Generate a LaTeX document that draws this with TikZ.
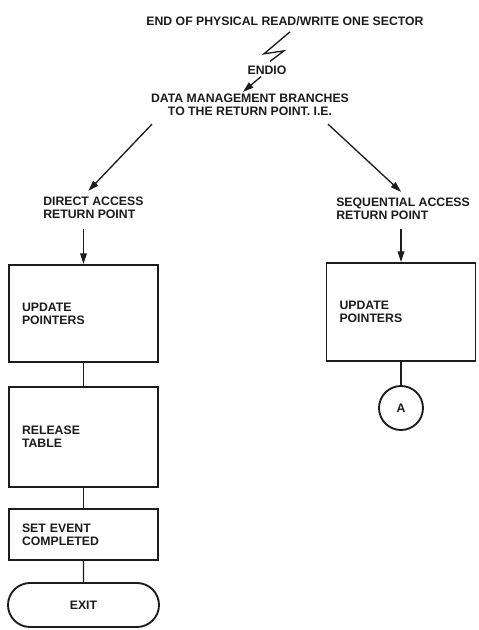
\documentclass[tikz,border=0pt]{standalone}
\usepackage{fontspec}
\setsansfont{Liberation Sans}
\usepackage{xcolor}
\usepackage{tikz}
\usetikzlibrary{arrows.meta, positioning, shapes.misc, calc}
\definecolor{ink}{HTML}{1C1C1C}
\tikzset{
    flowtext/.style={
        font=\sffamily\bfseries\fontsize{9.2}{9.8}\selectfont, text=ink,
        inner sep=0pt
    },
    procbox/.style={
        rectangle, draw=ink, line width=1.4pt, flowtext, align=left,
        text width=92.25pt, inner xsep=9.75pt, inner ysep=0pt,
        minimum height=#1
    },
    procbox/.default=72.75pt,
    termbox/.style={
        rounded rectangle, draw=ink, line width=1.4pt, flowtext,
        minimum width=113.25pt, minimum height=33pt
    },
    connbox/.style={
        circle, draw=ink, line width=1.4pt, flowtext, minimum size=33pt
    },
    flowarrow/.style={
        -{Triangle[length=8pt, width=5pt]}, line width=1pt, color=ink
    },
    flowline/.style={
        line width=1pt, color=ink
    },
}
\begin{document}
\begin{tikzpicture}[x=0.75pt, y=-0.75pt]
    \useasboundingbox (0,0) rectangle (478,630);

    % -- Entry --
    \node[flowtext] (sector) at (285,21) {END OF PHYSICAL READ/WRITE ONE SECTOR};
    \node[flowtext] (endio) at (267,70) {ENDIO};
    \node[flowtext, align=center] (branch) at (250,105) {DATA MANAGEMENT BRANCHES\\TO THE RETURN POINT. I.E.};

    % -- Return points --
    \node[flowtext, align=left, anchor=west] (direct) at (43,208) {DIRECT ACCESS\\RETURN POINT};
    \node[flowtext, align=left, anchor=west] (seq) at (336,209) {SEQUENTIAL ACCESS\\RETURN POINT};

    % -- Direct access path --
    \node[procbox] (upd1) at (83.5,313.5) {UPDATE\\POINTERS};
    \node[procbox=75pt] (release) at (83.5,437) {RELEASE\\TABLE};
    \node[procbox=38.25pt] (setev) at (83.5,534.5) {SET EVENT\\COMPLETED};
    \node[termbox] (exit) at (83.5,605) {EXIT};

    % -- Sequential access path --
    \node[procbox=73.5pt] (upd2) at (401,312) {UPDATE\\POINTERS};
    \node[connbox] (conA) at (401,408) {A};

    % -- Connectors --
    \draw[flowline] ($(sector.south)+(5,6)$) -- ++(-26,22) -- ++(20,-3) -- ($(endio.north)+(3,-4)$);
    \draw[flowarrow] ($(endio.south)+(-6,2)$) -- ($(branch.north)+(-7,-2)$);
    \draw[flowarrow] ($(branch.south)+(-98,8)$) -- ($(direct.north)+(-5,-6)$);
    \draw[flowarrow] ($(branch.south)+(78,8)$) -- ($(seq.north)+(-2,-6)$);
    \draw[flowarrow] ($(upd1.north)+(0,-35)$) -- (upd1.north);
    \draw[flowarrow] ($(upd2.north)+(0,-33)$) -- (upd2.north);
    \draw[flowline] (upd1) -- (release);
    \draw[flowline] (release) -- (setev);
    \draw[flowline] (setev) -- (exit);
    \draw[flowline] (upd2) -- (conA);

\end{tikzpicture}
\end{document}
